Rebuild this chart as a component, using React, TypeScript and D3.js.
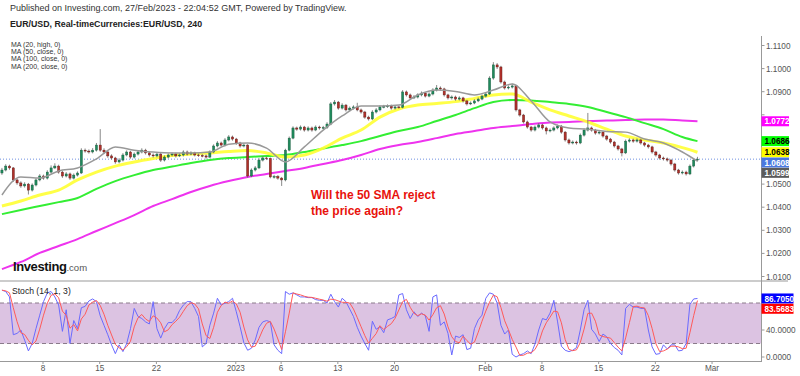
import React from 'react';
import * as d3 from 'd3';

// ---- price data (8h bars), values in pips above 1.0000 ----
const firstOpenPips = 548;
const closePips = [
  561,578,570,518,505,492,500,474,496,518,
  535,526,552,570,578,552,535,544,526,539,
  548,647,643,639,647,669,647,639,622,613,
  596,604,626,639,617,630,639,647,635,626,
  622,630,604,617,626,630,622,626,639,630,
  635,626,624,622,617,639,665,678,669,691,
  704,695,678,665,669,535,561,570,604,613,
  611,531,533,526,518,647,699,743,738,747,
  734,743,734,747,743,745,760,847,855,829,
  842,821,829,834,821,812,790,782,812,821,
  834,836,838,829,834,832,899,886,873,877,
  886,894,881,890,907,916,912,886,873,877,
  868,873,860,847,851,860,868,881,890,959,
  1016,1007,942,916,920,925,821,799,769,747,
  734,747,756,743,730,734,743,751,725,691,
  678,682,678,712,734,743,734,721,725,708,
  695,682,665,652,635,686,691,686,691,678,
  669,661,639,626,613,609,604,587,561,548,
  552,544,578,604,608,
];
const highPips = [
  570,586,584,574,524,512,508,505,503,525,
  543,541,560,581,590,584,558,552,550,546,
  555,655,654,650,656,678,738,655,645,629,
  618,612,634,646,644,637,646,655,653,641,
  633,637,635,624,633,637,636,633,646,645,
  642,640,632,630,628,646,672,686,684,699,
  712,710,700,683,676,673,568,578,612,621,
  619,615,540,539,531,653,706,750,749,754,
  752,750,749,754,753,752,768,855,864,860,
  850,847,836,841,852,827,817,796,820,829,
  841,843,845,844,840,840,907,905,892,885,
  893,901,899,897,915,929,923,917,891,884,
  883,880,878,865,858,867,875,888,897,967,
  1028,1024,1012,948,927,935,930,826,804,775,
  752,754,764,761,749,741,750,758,756,730,
  697,689,688,719,741,808,749,739,732,730,
  713,700,687,670,657,693,698,697,698,696,
  683,674,666,644,631,619,615,609,592,566,
  559,558,585,612,618,
];
const lowPips = [
  540,555,562,510,497,484,485,455,468,490,
  512,519,520,547,565,545,527,529,518,520,
  533,544,636,632,633,641,640,630,614,606,
  588,590,598,620,610,611,624,633,628,619,
  615,616,596,598,611,620,615,617,620,624,
  625,620,618,616,610,612,634,659,662,663,
  685,688,670,658,659,528,530,555,565,598,
  604,525,524,519,492,512,642,694,731,732,
  727,728,727,729,736,737,739,755,840,822,
  823,814,815,823,815,805,783,775,777,806,
  815,828,830,822,823,826,828,879,866,868,
  871,880,875,876,884,901,905,879,866,866,
  861,862,853,840,842,846,855,863,875,886,
  952,998,935,909,910,914,814,792,762,740,
  727,728,741,736,715,724,728,737,718,684,
  671,672,671,673,706,728,727,714,715,701,
  688,675,658,645,620,630,680,679,680,671,
  662,654,632,619,606,602,597,580,554,541,
  542,537,539,572,598,
];

// ---- moving averages read at every 5th bar (pips) ----
const maBars = [0,5,10,15,20,25,30,35,40,45,50,55,60,65,70,75,80,85,90,95,100,105,110,115,120,125,130,135,140,145,150,155,160,165,170,175,180,184];
const ma20 = [453,531,526,557,570,609,661,647,639,635,635,639,673,678,656,596,661,734,795,838,838,842,886,907,901,886,907,933,860,769,743,738,728,725,695,678,639,599];
const ma50 = [405,427,453,474,518,552,578,596,611,624,630,635,641,645,635,617,626,656,699,734,790,825,842,849,857,871,886,890,855,821,795,769,738,708,691,678,658,638];
const ma100 = [370,388,405,422,440,479,513,539,561,576,591,604,613,617,622,626,639,654,669,686,708,730,747,773,799,829,855,864,862,855,847,834,812,790,764,738,704,686];
const ma200 = [132,163,202,232,262,297,331,366,405,435,466,492,513,531,544,557,570,587,604,626,652,669,682,699,717,730,743,751,760,767,769,773,775,777,780,780,775,772];

// ---- stochastic %K ----
const stochK = [
  99,97,89,33,35,40,25,9,20,42,
  62,82,95,97,89,77,38,70,20,54,
  42,73,75,83,86,82,61,47,33,18,
  5,18,8,20,42,72,60,57,52,49,
  82,42,28,42,51,51,57,69,77,82,
  82,72,60,15,20,47,65,87,77,80,
  82,87,67,45,21,10,13,25,44,52,
  54,52,18,10,5,97,93,95,92,89,
  89,88,88,85,84,84,80,93,82,74,
  87,82,71,60,44,31,20,10,53,41,
  45,36,55,57,60,92,94,70,57,67,
  60,65,61,38,89,92,47,52,35,3,
  31,29,33,11,13,42,55,62,87,95,
  93,80,47,34,40,4,0,3,5,9,
  5,19,40,57,55,65,84,52,16,10,
  8,10,14,40,70,84,41,34,23,34,
  30,20,14,10,3,72,78,74,74,72,
  72,40,15,4,5,18,12,18,18,9,
  10,20,78,86,86.705,
];

// ---- axes ----
const priceTicks = [1.01,1.02,1.03,1.04,1.05,1.06,1.07,1.08,1.09,1.10,1.11];
const stochTicks = [0,40,80];
const dateLabels = ['8','15','22','2023','6','13','20','Feb','8','15','22','Mar'];
const dateDays = [5,10,15,22,26,31,36,44,49,54,59,64]; // trading days since 1 Dec 2022
const FIRST_BAR_DAY = 1.38;
const BARS_PER_DAY = 3;
const lastPrice = 1.0608;

const legendLines = ['MA (20, high, 0)','MA (50, close, 0)','MA (100, close, 0)','MA (200, close, 0)'];

const FONT = '"Liberation Sans", Arial, Helvetica, sans-serif';

export default function App() {
  const W = 800, H = 376;
  const AXIS_X = 761.5;
  const x = d3.scaleLinear().domain([0, 64]).range([-13.7, 712.06]);
  const yP = d3.scaleLinear().domain([1.01, 1.11]).range([276.5, 45.5]);
  const yS = d3.scaleLinear().domain([0, 100]).range([357, 289.5]);
  const toP = (p: number) => 1 + p / 10000;
  const barDay = (i: number) => FIRST_BAR_DAY + i / BARS_PER_DAY;

  const candles = closePips.map((c, i) => ({
    d: barDay(i),
    o: toP(i === 0 ? firstOpenPips : closePips[i - 1]),
    c: toP(c),
    h: toP(highPips[i]),
    l: toP(lowPips[i]),
  }));

  const maLine = d3.line<number>()
    .x((_, i) => x(barDay(maBars[i])))
    .y((v) => yP(toP(v)))
    .curve(d3.curveMonotoneX);

  const stochD = stochK.map((_, i) => {
    const s = stochK.slice(Math.max(0, i - 2), i + 1);
    return d3.mean(s) as number;
  });
  const stLine = d3.line<number>()
    .x((_, i) => x(barDay(i)))
    .y((v) => yS(v));

  // right labels with stacking
  const rawLabels = [
    { v: toP(ma200[ma200.length - 1]), bg: '#ff00ff', fg: '#fff' },
    { v: toP(ma100[ma100.length - 1]), bg: '#00ff00', fg: '#000' },
    { v: toP(ma50[ma50.length - 1]), bg: '#ffff00', fg: '#000' },
    { v: lastPrice, bg: '#4a78e0', fg: '#fff' },
    { v: toP(ma20[ma20.length - 1]), bg: '#5a5a5a', fg: '#fff' },
  ].map((l) => ({ ...l, y: yP(l.v) })).sort((a, b) => a.y - b.y);
  for (let i = 1; i < rawLabels.length; i++) {
    if (rawLabels[i].y < rawLabels[i - 1].y + 10.3) rawLabels[i].y = rawLabels[i - 1].y + 10.3;
  }
  const stLabels = [
    { v: stochK[stochK.length - 1], bg: '#0000ff', fg: '#fff' },
    { v: stochD[stochD.length - 1], bg: '#ff0000', fg: '#fff' },
  ].map((l) => ({ ...l, y: yS(l.v) })).sort((a, b) => a.y - b.y);
  for (let i = 1; i < stLabels.length; i++) {
    if (stLabels[i].y < stLabels[i - 1].y + 10.3) stLabels[i].y = stLabels[i - 1].y + 10.3;
  }
  // tick labels hidden where a coloured value label covers them
  const freeOf = (yy: number, labels: { y: number }[]) => labels.every((l) => Math.abs(l.y - yy) >= 7);

  const bw = 2.2;

  return (
    <svg width={W} height={H} style={{ position: 'absolute', left: 0, top: 0, background: '#fff' }} fontFamily={FONT}>
      <rect x={0} y={0} width={W} height={H} fill="#fff" />
      {/* header */}
      <text x={10} y={11} fontSize={9} fill="#333">Published on Investing.com, 27/Feb/2023 - 22:04:52 GMT, Powered by TradingView.</text>
      <text x={10} y={27} fontSize={8.8} fontWeight="bold" fill="#222">EUR/USD, Real-timeCurrencies:EUR/USD, 240</text>
      {legendLines.map((t, i) => (
        <text key={t} x={11} y={46.5 + i * 7.4} fontSize={7} fill="#333">{t}</text>
      ))}

      {/* stochastic panel */}
      <rect x={0} y={yS(80)} width={AXIS_X} height={yS(20) - yS(80)} fill="#dcc3e2" />
      {[80, 20].map((v) => (
        <line key={v} x1={0} x2={AXIS_X} y1={yS(v)} y2={yS(v)} stroke="#8a7a8a" strokeDasharray="4,3" strokeWidth={1} />
      ))}
      <path d={stLine(stochK) || ''} fill="none" stroke="#6a6aff" strokeWidth={1} />
      <path d={stLine(stochD) || ''} fill="none" stroke="#ff5a5a" strokeWidth={1} />
      <text x={12} y={294} fontSize={8.6} fill="#222">Stoch (14, 1, 3)</text>

      {/* panel separators */}
      <line x1={0} x2={788} y1={281} y2={281} stroke="#999" strokeWidth={1} />
      <line x1={0} x2={AXIS_X} y1={361.5} y2={361.5} stroke="#999" strokeWidth={1} />
      <line x1={AXIS_X} x2={AXIS_X} y1={36} y2={362} stroke="#999" strokeWidth={1} />

      {/* current price dotted line */}
      <line x1={0} x2={AXIS_X} y1={yP(lastPrice)} y2={yP(lastPrice)} stroke="#6f8fe0" strokeWidth={1} strokeDasharray="1,2" />

      {/* moving averages (back) */}
      <path d={maLine(ma200) || ''} fill="none" stroke="#ee33ee" strokeWidth={2} />
      <path d={maLine(ma100) || ''} fill="none" stroke="#33ee33" strokeWidth={2} />
      <path d={maLine(ma50) || ''} fill="none" stroke="#ffff33" strokeWidth={3} opacity={0.9} />

      {/* candles */}
      {candles.map((k, i) => {
        const cx = x(k.d);
        const up = k.c >= k.o;
        const top = yP(Math.max(k.o, k.c));
        const bot = yP(Math.min(k.o, k.c));
        return (
          <g key={i}>
            <line x1={cx} x2={cx} y1={yP(k.h)} y2={yP(k.l)} stroke="#6b6b6b" strokeWidth={0.8} />
            <rect x={cx - bw / 2} y={top} width={bw} height={Math.max(0.8, bot - top)}
              fill={up ? '#1f8a5c' : '#b0302a'} stroke={up ? '#19573c' : '#5a1a16'} strokeWidth={0.4} />
          </g>
        );
      })}

      <path d={maLine(ma20) || ''} fill="none" stroke="#999" strokeWidth={1.5} />

      {/* annotation */}
      <text x={311} y={199} fontSize={12} fontWeight="bold" fill="#e8120c">Will the 50 SMA reject</text>
      <text x={311} y={215} fontSize={12} fontWeight="bold" fill="#e8120c">the price again?</text>

      {/* logo */}
      <text x={13} y={271} fontSize={13} fontWeight="bold" fill="#111" letterSpacing={-0.4}>Investing<tspan fontSize={9.5} fontWeight="normal" fill="#555" letterSpacing={0}>.com</tspan></text>

      {/* price axis */}
      {priceTicks.map((t) => (
        <g key={t}>
          <line x1={AXIS_X} x2={AXIS_X + 3} y1={yP(t)} y2={yP(t)} stroke="#999" />
          {freeOf(yP(t), rawLabels) && (
            <text x={766} y={yP(t) + 3} fontSize={8.2} fill="#555">{t.toFixed(4)}</text>
          )}
        </g>
      ))}
      {stochTicks.map((t) => (
        <g key={t}>
          <line x1={AXIS_X} x2={AXIS_X + 3} y1={yS(t)} y2={yS(t)} stroke="#999" />
          {freeOf(yS(t), stLabels) && (
            <text x={766} y={yS(t) + 3} fontSize={8.2} fill="#555">{t.toFixed(4)}</text>
          )}
        </g>
      ))}
      {rawLabels.map((l, i) => (
        <g key={i}>
          <rect x={AXIS_X} y={l.y - 5} width={27.5} height={10} fill={l.bg} />
          <text x={AXIS_X + 3} y={l.y + 3.2} fontSize={8.2} fontWeight="bold" fill={l.fg}>{l.v.toFixed(4)}</text>
        </g>
      ))}
      {stLabels.map((l, i) => (
        <g key={i}>
          <rect x={AXIS_X} y={l.y - 5} width={32} height={10} fill={l.bg} />
          <text x={AXIS_X + 3} y={l.y + 3.2} fontSize={8.2} fontWeight="bold" fill={l.fg}>{l.v.toFixed(4)}</text>
        </g>
      ))}

      {/* date axis */}
      {dateLabels.map((t, i) => (
        <g key={i}>
          <line x1={x(dateDays[i])} x2={x(dateDays[i])} y1={361.5} y2={364} stroke="#999" />
          <text x={x(dateDays[i])} y={371} fontSize={8.2} fill="#555" textAnchor="middle">{t}</text>
        </g>
      ))}
    </svg>
  );
}
